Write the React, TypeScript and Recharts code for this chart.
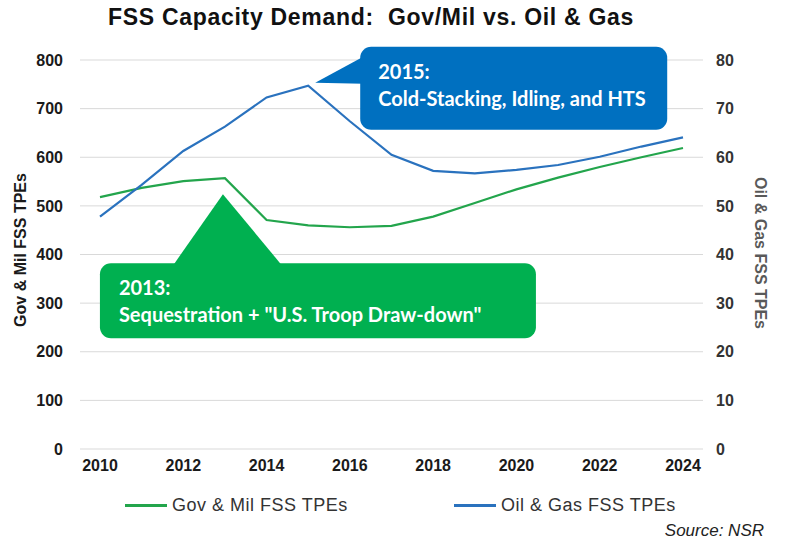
import {
  LineChart,
  Line,
  XAxis,
  YAxis,
  CartesianGrid,
  Legend,
  ReferenceDot,
} from "recharts";

// values read off the reference
const years = [2010, 2011, 2012, 2013, 2014, 2015, 2016, 2017, 2018, 2019, 2020, 2021, 2022, 2023, 2024];
const govMil = [518, 537, 551, 557, 471, 460, 456, 459, 478, 506, 534, 558, 580, 600, 619];
const oilGas = [47.8, 54.3, 61.3, 66.3, 72.3, 74.7, 67.4, 60.5, 57.2, 56.7, 57.4, 58.4, 60.1, 62.2, 64.1];

const yearTicks = [2010, 2012, 2014, 2016, 2018, 2020, 2022, 2024];
const leftTicks = [0, 100, 200, 300, 400, 500, 600, 700, 800];
const rightTicks = [0, 10, 20, 30, 40, 50, 60, 70, 80];

const GOV_NAME = "Gov & Mil FSS TPEs";
const OIL_NAME = "Oil & Gas FSS TPEs";

const data = years.map((year, i) => ({ year, gov: govMil[i], oil: oilGas[i] }));

const FONT = "'Liberation Sans', Arial, sans-serif";
const CALLOUT_FONT = "Lato, 'Open Sans', sans-serif";
const GREEN = "#23A54C";
const BLUE = "#2A72BE";
const BOX_GREEN = "#00B050";
const BOX_BLUE = "#0070C0";

const tickStyle = { fontFamily: FONT, fontSize: 16, fontWeight: 700, fill: "#1a1a1a" };

// callout tied to the 2013 Gov/Mil point
const GreenCallout = (props: any) => {
  const x = props.cx - 2;
  const y = props.cy + 16;
  return (
    <g>
      <polygon points={`${x},${y} ${x - 49},${y + 70} ${x + 58},${y + 70}`} fill={BOX_GREEN} />
      <rect x={x - 123} y={y + 69} width={436} height={75} rx={11} fill={BOX_GREEN} />
      <text x={x - 104} y={y + 101} fill="#fff" fontFamily={CALLOUT_FONT} fontSize={20} fontWeight={700}>
        2013:
      </text>
      <text x={x - 104} y={y + 128} fill="#fff" fontFamily={CALLOUT_FONT} fontSize={20} fontWeight={700}>
        Sequestration + "U.S. Troop Draw-down"
      </text>
    </g>
  );
};

// callout tied to the 2015 Oil & Gas peak
const BlueCallout = (props: any) => {
  const x = props.cx + 7;
  const y = props.cy - 3;
  return (
    <g>
      <polygon points={`${x},${y} ${x + 48},${y - 26} ${x + 48},${y + 1}`} fill={BOX_BLUE} />
      <rect x={x + 45} y={y - 36} width={307} height={83} rx={11} fill={BOX_BLUE} />
      <text x={x + 63} y={y - 4} fill="#fff" fontFamily={CALLOUT_FONT} fontSize={20} fontWeight={700}>
        2015:
      </text>
      <text x={x + 63} y={y + 23} fill="#fff" fontFamily={CALLOUT_FONT} fontSize={20} fontWeight={700}>
        Cold-Stacking, Idling, and HTS
      </text>
    </g>
  );
};

const LegendItem = ({ left, color, label }: { left: number; color: string; label: string }) => (
  <div style={{ position: "absolute", left, top: 0, height: 30, display: "flex", alignItems: "center" }}>
    <div style={{ width: 42, height: 3, background: color, marginRight: 5 }} />
    <span>{label}</span>
  </div>
);

const renderLegend = () => (
  <div
    style={{
      position: "relative",
      width: 786,
      height: 30,
      fontFamily: FONT,
      fontSize: 18,
      letterSpacing: 0.5,
      color: "#333",
    }}
  >
    <LegendItem left={125} color={GREEN} label={GOV_NAME} />
    <LegendItem left={454} color={BLUE} label={OIL_NAME} />
  </div>
);

export default function App() {
  return (
    <div style={{ position: "absolute", left: 0, top: 0, width: 786, height: 549, background: "#fff" }}>
      <div
        style={{
          position: "absolute",
          left: 0,
          width: 742,
          top: 4,
          textAlign: "center",
          fontFamily: FONT,
          fontSize: 23,
          fontWeight: 700,
          letterSpacing: 0.7,
          color: "#111",
          whiteSpace: "pre",
        }}
      >
        {"FSS Capacity Demand:  Gov/Mil vs. Oil & Gas"}
      </div>
      <LineChart
        width={786}
        height={549}
        data={data}
        margin={{ top: 60, right: 0, bottom: 70, left: 0 }}
      >
        <CartesianGrid vertical={false} stroke="#D9D9D9" yAxisId="left" />
        <XAxis
          dataKey="year"
          type="number"
          domain={[2010, 2024]}
          ticks={yearTicks}
          padding={{ left: 20, right: 20 }}
          axisLine={false}
          tickLine={false}
          tickSize={0}
          tickMargin={11}
          height={30}
          tick={tickStyle}
        />
        <YAxis
          yAxisId="left"
          domain={[0, 800]}
          ticks={leftTicks}
          width={80}
          axisLine={false}
          tickLine={false}
          tickSize={0}
          tickMargin={17}
          tick={tickStyle}
          label={({ viewBox }: any) => (
            <text
              x={viewBox.x + 20}
              y={250}
              transform={`rotate(-90, ${viewBox.x + 20}, 250)`}
              textAnchor="middle"
              dominantBaseline="central"
              fontFamily={FONT}
              fontSize={16}
              fontWeight={700}
              fill="#1a1a1a"
            >
              Gov & Mil FSS TPEs
            </text>
          )}
        />
        <YAxis
          yAxisId="right"
          orientation="right"
          domain={[0, 80]}
          ticks={rightTicks}
          width={83}
          axisLine={false}
          tickLine={false}
          tickSize={0}
          tickMargin={13}
          tick={{ ...tickStyle, fill: "#333" }}
          label={({ viewBox }: any) => (
            <text
              x={viewBox.x + 57}
              y={253}
              transform={`rotate(90, ${viewBox.x + 57}, 253)`}
              textAnchor="middle"
              dominantBaseline="central"
              fontFamily={FONT}
              fontSize={16}
              fontWeight={700}
              fill="#595959"
            >
              Oil & Gas FSS TPEs
            </text>
          )}
        />
        <Legend
          layout="horizontal"
          verticalAlign="middle"
          align="center"
          content={renderLegend}
          wrapperStyle={{ top: 490, left: 0, width: 786 }}
        />
        <Line
          yAxisId="left"
          dataKey="gov"
          name={GOV_NAME}
          type="linear"
          stroke={GREEN}
          strokeWidth={2.2}
          dot={false}
          isAnimationActive={false}
        />
        <Line
          yAxisId="right"
          dataKey="oil"
          name={OIL_NAME}
          type="linear"
          stroke={BLUE}
          strokeWidth={2.2}
          dot={false}
          isAnimationActive={false}
        />
        <ReferenceDot yAxisId="left" x={2013} y={govMil[3]} shape={GreenCallout} ifOverflow="visible" />
        <ReferenceDot yAxisId="right" x={2015} y={oilGas[5]} shape={BlueCallout} ifOverflow="visible" />
      </LineChart>
      <div
        style={{
          position: "absolute",
          right: 22,
          top: 521,
          fontFamily: FONT,
          fontSize: 17,
          fontStyle: "italic",
          color: "#222",
        }}
      >
        Source: NSR
      </div>
    </div>
  );
}
